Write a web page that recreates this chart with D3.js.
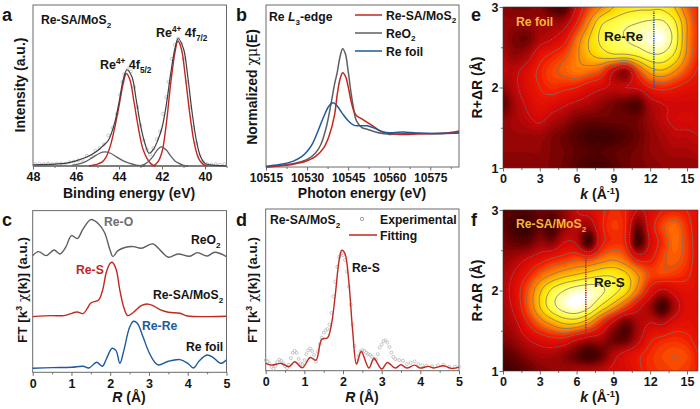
<!DOCTYPE html>
<html><head><meta charset="utf-8">
<script src="https://cdn.jsdelivr.net/npm/d3@7"></script>
<style>
html,body{margin:0;padding:0;background:#fff}
svg{display:block}
text{font-family:"Liberation Sans",Arial,sans-serif;font-weight:bold;fill:#151515}
</style></head><body><svg id="c" width="700" height="409"></svg>
<script>
// ---------- panel a (XPS) ----------
const aTicks=[48,46,44,42,40];
const aEnvelope=[[48,1],[47,1.5],[46.5,2],[46,4],[45.5,7],[45,12],[44.8,15],[44.5,20],[44.2,34],[44,50],[43.8,68],[43.63,75.5],[43.4,70],[43.2,52],[43,32],[42.8,18],[42.6,10],[42.4,13],[42.2,20],[42,30],[41.8,48],[41.6,72],[41.4,92],[41.25,100],[41,92],[40.8,70],[40.6,42],[40.4,20],[40.2,7],[40,2],[39.5,.5],[39,0]];
const aPeak52=[[45.4,0],[45,1.5],[44.8,3],[44.6,7],[44.4,16],[44.2,30],[44,47],[43.8,65],[43.66,72.5],[43.5,68],[43.3,50],[43.1,30],[42.9,14],[42.7,6],[42.5,1.5],[42.3,0]];
const aPeak72=[[42.4,0],[42.2,3],[42,11],[41.8,33],[41.6,64],[41.4,89],[41.26,98],[41.1,92],[40.9,68],[40.7,40],[40.5,18],[40.3,6],[40.1,1.5],[39.9,0]];
const aShoulderHi=[[46.2,.5],[46,1],[45.6,3],[45.2,7],[44.9,10],[44.66,11],[44.4,10],[44.1,7],[43.8,4],[43.5,2],[43.2,.7],[43,.2],[42.8,0]];
const aShoulderLo=[[43,.3],[42.8,1.5],[42.6,4],[42.4,8],[42.2,13],[42.03,15],[41.8,12.5],[41.6,8],[41.4,4],[41.2,2],[41,.5],[40.8,0]];
const aBaseline=[[48,0],[39,0]];
const aExperimental=[[47.9,1.5],[47.7,1.8],[47.5,1.5],[47.3,2],[47.1,1.5],[46.9,1.8],[46.7,2],[46.5,1.8],[46.3,3],[46.1,3.5],[45.9,4.5],[45.7,5],[45.5,8],[45.3,7.5],[45.1,12],[44.9,14],[44.7,17],[44.5,24],[44.3,30],[44.1,41],[43.95,56],[43.85,66],[43.75,72],[43.6,76],[43.45,74],[43.3,62],[43.15,46],[43,32],[42.85,20],[42.7,13],[42.55,9],[42.4,14],[42.25,21],[42.1,27],[41.95,41],[41.8,54],[41.7,66],[41.55,84],[41.4,95],[41.25,100],[41.1,96],[41,84],[40.85,66],[40.7,46],[40.55,30],[40.4,18],[40.25,8],[40.1,3.5],[39.9,1.5],[39.7,1],[39.5,1.5],[39.3,1],[39.1,1.5]];
// ---------- panel b (XANES) ----------
const bTicks=[10515,10530,10545,10560,10575];
const bSA=[[10515,0],[10520,.03],[10525,.08],[10530,.18],[10533,.3],[10536,.55],[10538,.9],[10540,1.5],[10541,2.1],[10542,2.55],[10543,2.75],[10544,2.65],[10545,2.35],[10546,1.95],[10547,1.65],[10548,1.5],[10550,1.4],[10552,1.3],[10554,1.2],[10556,1.08],[10558,1],[10560,.98],[10565,.95],[10570,.96],[10575,.97],[10580,.98],[10585.5,1.05]];
const bReO2=[[10515,0],[10520,.04],[10525,.1],[10530,.22],[10533,.4],[10535,.65],[10537,1.15],[10539,1.95],[10540,2.4],[10541,2.75],[10542,3.2],[10543,3.45],[10544,3.3],[10545,2.8],[10546,2.2],[10547,1.7],[10548,1.35],[10550,1.15],[10552,1.1],[10555,1.02],[10558,.97],[10560,.95],[10565,.97],[10570,.98],[10575,.98],[10580,.99],[10585.5,1]];
const bFoil=[[10515,.02],[10520,.07],[10525,.17],[10528,.3],[10530,.45],[10532,.68],[10534,1.05],[10536,1.45],[10538,1.78],[10539.5,1.87],[10541,1.78],[10543,1.55],[10545,1.35],[10547,1.22],[10549,1.2],[10552,1.2],[10555,1.12],[10558,1.02],[10560,1],[10565,1.02],[10570,.99],[10575,.98],[10580,.98],[10585.5,.99]];
// ---------- panel c (FT-EXAFS, height above the axis in a.u.) ----------
const rTicks=[0,1,2,3,4,5];
const cReO2=[[0,350],[.15,362],[.35,350],[.55,367],[.7,355],[.85,375],[1,410],[1.15,401],[1.3,430],[1.5,458],[1.7,445],[1.85,420],[2,365],[2.07,347],[2.2,365],[2.4,375],[2.6,377],[2.8,372],[3.1,385],[3.3,365],[3.5,345],[3.75,355],[4.05,348],[4.25,359],[4.5,349],[4.7,360],[5,347]];
const cSA=[[0,167],[.5,170],[.8,170],[1.1,180],[1.15,181],[1.3,176],[1.4,190],[1.5,208],[1.7,217],[1.8,245],[1.9,300],[2,327],[2.05,330],[2.15,310],[2.25,245],[2.35,195],[2.45,170],[2.6,180],[2.8,200],[2.95,205],[3.1,200],[3.3,187],[3.5,180],[3.8,177],[4,169],[4.5,167],[5,168]];
const cFoil=[[0,12],[.5,14],[1,15],[1.3,18],[1.45,13],[1.65,30],[1.8,18],[1.9,40],[2.05,72],[2.15,65],[2.25,27],[2.35,65],[2.5,135],[2.6,153],[2.7,147],[2.85,105],[3,60],[3.15,30],[3.25,22],[3.5,33],[3.8,38],[4,27],[4.15,13],[4.3,35],[4.5,52],[4.65,45],[4.85,27],[5,38]];
// ---------- panel d ----------
const dFit=[[0,22],[.15,17],[.4,22],[.6,12],[.75,27],[.95,9],[1.15,40],[1.3,32],[1.45,95],[1.6,100],[1.7,140],[1.8,230],[1.9,335],[1.97,365],[2.05,355],[2.15,270],[2.25,120],[2.35,20],[2.47,58],[2.67,8],[2.8,37],[3,5],[3.15,25],[3.35,8],[3.5,18],[3.65,8],[3.85,17],[4,8],[4.2,13],[4.35,8],[4.6,15],[4.8,7],[5,10]];
const dExperimental=[[0,32],[.05,28],[.1,22],[.15,12],[.2,6],[.25,14],[.3,26],[.35,33],[.4,30],[.45,22],[.5,14],[.55,8],[.6,18],[.65,38],[.7,54],[.75,60],[.8,54],[.85,36],[.9,22],[.95,20],[1,32],[1.05,50],[1.1,62],[1.15,67],[1.2,60],[1.25,48],[1.3,28],[1.35,58],[1.4,80],[1.45,100],[1.5,115],[1.55,122],[1.6,126],[1.65,140],[1.7,175],[1.75,225],[1.8,270],[1.85,315],[1.9,345],[1.95,355],[2,350],[2.05,335],[2.1,300],[2.15,255],[2.2,200],[2.25,140],[2.3,75],[2.35,30],[2.4,45],[2.45,58],[2.5,62],[2.55,60],[2.6,55],[2.65,50],[2.7,48],[2.75,42],[2.8,36],[2.85,35],[2.9,50],[2.95,70],[3,80],[3.05,90],[3.1,92],[3.15,85],[3.2,72],[3.25,55],[3.3,42],[3.35,35],[3.45,32],[3.55,30],[3.65,20],[3.75,24],[3.85,28],[3.95,20],[4.05,16],[4.15,15],[4.3,14],[4.45,16],[4.6,18],[4.75,12],[4.9,12],[5,12]];
// ---------- panels e, f (wavelet maps) ----------
const wkAxis=[0,1,2,3,4,5,6,7,8,9,10,11,12,13,14,15,16];
const wrAxis=[3,2.8,2.6,2.4,2.2,2,1.8,1.6,1.4,1.2,1];
const kTicks=[0,3,6,9,12,15], wTicks=[1,2,3];
const eGrid=[
[.18,.17,.17,.18,.10,.08,.32,.50,.62,.72,.78,.80,.80,.80,.72,.55,.45],
[.22,.20,.20,.22,.22,.25,.42,.62,.80,.86,.90,.92,.94,.94,.84,.62,.45],
[.22,.16,.15,.25,.30,.38,.56,.72,.84,.88,.92,.95,.99,1.0,.88,.62,.46],
[.25,.20,.25,.38,.44,.50,.60,.70,.76,.80,.80,.84,.90,.90,.80,.60,.44],
[.28,.28,.36,.44,.50,.54,.58,.56,.50,.30,.20,.48,.66,.70,.62,.50,.40],
[.20,.28,.36,.42,.46,.44,.42,.36,.32,.28,.30,.32,.42,.45,.42,.38,.36],
[.12,.24,.32,.38,.36,.32,.28,.25,.20,.16,.12,.10,.25,.30,.32,.32,.32],
[.20,.24,.28,.32,.26,.22,.16,.14,.14,.14,.14,.15,.22,.28,.32,.33,.32],
[.22,.22,.22,.22,.18,.14,.10,.06,.05,.07,.10,.14,.20,.24,.28,.28,.30],
[.20,.20,.20,.20,.17,.15,.12,.10,.10,.12,.14,.16,.20,.22,.24,.24,.26],
[.18,.18,.18,.18,.17,.14,.10,.06,.06,.10,.14,.16,.18,.20,.20,.20,.20]];
const fGrid=[
[.12,.10,.10,.14,.14,.20,.30,.34,.40,.46,.42,.30,.34,.42,.44,.42,.36],
[.12,.06,.04,.12,.06,.20,.26,.22,.40,.48,.42,.14,.36,.50,.56,.46,.36],
[.16,.12,.12,.20,.18,.30,.28,.06,.38,.46,.42,.06,.32,.46,.56,.48,.36],
[.20,.24,.30,.36,.42,.46,.50,.48,.56,.60,.54,.38,.40,.50,.54,.48,.36],
[.24,.32,.42,.54,.62,.68,.72,.76,.80,.80,.74,.62,.50,.50,.48,.44,.36],
[.26,.36,.52,.70,.84,.92,.97,.98,.94,.86,.76,.58,.38,.28,.34,.38,.36],
[.24,.34,.52,.72,.88,.97,1.0,.94,.80,.66,.50,.34,.22,.06,.24,.36,.34],
[.22,.28,.42,.56,.66,.74,.74,.64,.46,.28,.14,.24,.30,.28,.36,.38,.36],
[.18,.22,.30,.36,.40,.40,.32,.26,.24,.14,.12,.26,.40,.44,.46,.44,.38],
[.10,.14,.20,.24,.24,.20,.12,.05,.12,.26,.34,.40,.46,.50,.52,.50,.42],
[.05,.08,.12,.18,.20,.22,.24,.26,.28,.32,.34,.40,.46,.48,.50,.48,.44]];
const lineLevels=[.3,.42,.52,.62,.72,.82,.92];

const RED="#c0281f",GREY="#5f5f63",BLUE="#1d5a9e",FRAME="#6a6a6a";
const svg=d3.select("#c");
const line=(x,y)=>d3.line().x(d=>x(d[0])).y(d=>y(d[1])).curve(d3.curveCatmullRom.alpha(.5));

function rich(g,x,y,size,parts,opt={}){
  const t=g.append("text").attr("transform",`translate(${x},${y})${opt.rot?` rotate(${opt.rot})`:""}`)
    .attr("text-anchor",opt.anchor||"start").style("font-size",size+"px");
  if(opt.fill)t.style("fill",opt.fill);
  let last=0;
  parts.forEach(p=>{
    const [s,k]=Array.isArray(p)?p:[p,""];
    const off=k==="sub"?size*.3:k==="sup"?-size*.38:0;
    const sp=t.append("tspan").text(s).attr("dy",off-last);
    if(k==="sub"||k==="sup")sp.style("font-size",(size*.66)+"px");
    if(k==="i")sp.style("font-style","italic");
    if(k==="g")sp.style("font-weight","normal").style("font-family","'DejaVu Serif',serif");
    last=off;
  });
  return t;
}
function ticksOn(g,axisGen,size){
  const a=g.call(axisGen.tickSize(size));
  a.select(".domain").remove();
  a.selectAll("line").attr("stroke",FRAME);
  return a;
}
function frame(x,y,top,tickVals,minor,size=12.5){
  const [x0,x1]=x.range(),y1=y.range()[0];
  const g=svg.append("g");
  g.append("rect").attr("x",x0).attr("y",top).attr("width",x1-x0).attr("height",y1-top).attr("fill","none").attr("stroke",FRAME).attr("stroke-width",1);
  ticksOn(g.append("g").attr("transform",`translate(0,${y1})`),d3.axisBottom(x).tickValues(minor).tickFormat(""),2);
  const ax=ticksOn(g.append("g").attr("transform",`translate(0,${y1})`),d3.axisBottom(x).tickValues(tickVals).tickPadding(3).tickFormat(d3.format("d")),3.5);
  ax.selectAll("text").style("font-size",size+"px").attr("fill",null);
  return g;
}
function plot(data,x,y,color,w=1.4){
  svg.append("path").datum(data).attr("d",line(x,y)).attr("fill","none").attr("stroke",color).attr("stroke-width",w).attr("stroke-linejoin","round");
}
function dots(data,x,y,r=1.5,c="#b9b9b9"){
  svg.append("g").selectAll("circle").data(data).join("circle").attr("cx",d=>x(d[0])).attr("cy",d=>y(d[1])).attr("r",r).attr("fill","none").attr("stroke",c).attr("stroke-width",.8);
}
const LB=12.2, TT=14;
// ---- a ----
{
  const x=d3.scaleLinear([48,39],[33,226.5]),y=d3.scaleLinear([0,100],[166,38.5]);
  frame(x,y,5,aTicks,[47,45,43,41,39]);
  dots(aExperimental,x,y);
  plot(aBaseline,x,y,"#7d7d7d",2);
  plot(aPeak52,x,y,RED,1.4);plot(aPeak72,x,y,RED,1.4);
  plot(aShoulderHi,x,y,GREY,1.3);plot(aShoulderLo,x,y,GREY,1.3);
  plot(aEnvelope,x,y,"#3d3f46",1.2);
  rich(svg,41,24,LB,["Re-SA/MoS",["2","sub"]]);
  rich(svg,100,69,12.5,["Re",["4+","sup"],[" 4f",""],["5/2","sub"]]);
  rich(svg,156,37,12.5,["Re",["4+","sup"],[" 4f",""],["7/2","sub"]]);
  rich(svg,129,198,TT,["Binding energy (eV)"],{anchor:"middle"});
  rich(svg,25,85,TT,["Intensity (a.u.)"],{anchor:"middle",rot:-90});
  rich(svg,2,21,18,["a"]);
}
// ---- b ----
{
  const x=d3.scaleLinear([10515,10585.5],[266,459]),y=d3.scaleLinear([0,1],[167,132.7]);
  frame(x,y,5,bTicks,[10522.5,10537.5,10552.5,10567.5,10582.5],12);
  plot(bReO2,x,y,GREY,1.5);plot(bSA,x,y,RED,1.5);plot(bFoil,x,y,BLUE,1.5);
  const legend=[["Re-SA/MoS",RED,15,true],["ReO",GREY,33,true],["Re foil",BLUE,51,false]];
  legend.forEach(([n,c,yy,sub])=>{
    svg.append("line").attr("x1",355).attr("x2",382).attr("y1",yy).attr("y2",yy).attr("stroke",c).attr("stroke-width",1.5);
    rich(svg,386,yy+4.5,LB,sub?[n,["2","sub"]]:[n]);
  });
  rich(svg,269,21,LB,["Re ",["L","i"],["3","sub"],"-edge"]);
  rich(svg,362,198,TT,["Photon energy (eV)"],{anchor:"middle"});
  rich(svg,257,87,TT,["Normalized ",["χμ","g"],"(E)"],{anchor:"middle",rot:-90});
  rich(svg,236,21,18,["b"]);
}
// ---- c ----
{
  const x=d3.scaleLinear([0,5],[32.7,226.5]),y=d3.scaleLinear([0,485],[372.3,210.6]);
  frame(x,y,210.6,rTicks,[.5,1.5,2.5,3.5,4.5]);
  plot(cReO2,x,y,GREY);plot(cSA,x,y,RED);plot(cFoil,x,y,BLUE);
  rich(svg,104,226,LB,["Re-O"],{fill:"#6d6d6d"});
  rich(svg,76,274,LB,["Re-S"],{fill:RED});
  rich(svg,142,330,LB,["Re-Re"],{fill:BLUE});
  rich(svg,191,244,LB,["ReO",["2","sub"]]);
  rich(svg,153,299,LB,["Re-SA/MoS",["2","sub"]]);
  rich(svg,186,351,LB,["Re foil"]);
  rich(svg,129,402,TT,[["R","i"]," (Å)"],{anchor:"middle"});
  rich(svg,27,290,13.5,["FT [k",["3","sup"]," ",["χ","g"],"(k)] (a.u.)"],{anchor:"middle",rot:-90});
  rich(svg,2,226,18,["c"]);
}
// ---- d ----
{
  const x=d3.scaleLinear([0,5],[265.7,459]),y=d3.scaleLinear([0,490],[370.7,209]);
  frame(x,y,209,rTicks,[.5,1.5,2.5,3.5,4.5]);
  dots(dExperimental,x,y);
  plot(dFit,x,y,RED);
  rich(svg,270,224,LB,["Re-SA/MoS",["2","sub"]]);
  svg.append("circle").attr("cx",362).attr("cy",219).attr("r",1.7).attr("fill","none").attr("stroke","#8a8a8a").attr("stroke-width",.8);
  rich(svg,380,224,LB,["Experimental"]);
  svg.append("line").attr("x1",349).attr("x2",377).attr("y1",235).attr("y2",235).attr("stroke",RED).attr("stroke-width",1.5);
  rich(svg,380,240,LB,["Fitting"]);
  rich(svg,352,272,LB,["Re-S"]);
  rich(svg,362,402,TT,[["R","i"]," (Å)"],{anchor:"middle"});
  rich(svg,257,290,13.5,["FT [k",["3","sup"]," ",["χ","g"],"(k)] (a.u.)"],{anchor:"middle",rot:-90});
  rich(svg,236,226,18,["d"]);
}
// ---- heat maps ----
const heatColor=d3.scaleLinear().domain([0,.1,.2,.3,.42,.55,.65,.75,.87,.95,1]).range(["#2a0000","#5a0000","#980505","#d00808","#f01800","#ff6a00","#ffa500","#ffe000","#ffff50","#ffffb0","#ffffff"]).clamp(true);
function upsample(grid,n){
  const R=grid.length,C=grid[0].length,W=(C-1)*n+1,H=(R-1)*n+1,out=new Float64Array(W*H);
  const cr=(a,b,c,d,t)=>.5*(2*b+(c-a)*t+(2*a-5*b+4*c-d)*t*t+(3*b-a-3*c+d)*t*t*t);
  const g=(r,c)=>grid[Math.max(0,Math.min(R-1,r))][Math.max(0,Math.min(C-1,c))];
  for(let j=0;j<H;j++)for(let i=0;i<W;i++){
    const r=Math.floor(j/n),c=Math.floor(i/n),tr=j/n-r,tc=i/n-c,v=[];
    for(let k=-1;k<3;k++)v.push(cr(g(r+k,c-1),g(r+k,c),g(r+k,c+1),g(r+k,c+2),tc));
    out[j*W+i]=cr(v[0],v[1],v[2],v[3],tr);
  }
  return {values:out,W,H};
}
function heat(grid,id,top,bottom,markK,markR,markC){
  const x=d3.scaleLinear([0,15.9],[503,698]),y=d3.scaleLinear([1,3],[bottom,top]);
  const n=8,u=upsample(grid,n);
  const px=d3.scaleLinear([0,u.W-1],[x(wkAxis[0]),x(wkAxis[wkAxis.length-1])]);
  const py=d3.scaleLinear([0,u.H-1],[y(wrAxis[0]),y(wrAxis[wrAxis.length-1])]);
  const proj=d3.geoTransform({point(a,b){this.stream.point(px(a-.5),py(b-.5));}});
  const path=d3.geoPath(proj);
  svg.append("clipPath").attr("id",id).append("rect").attr("x",503).attr("y",top).attr("width",195).attr("height",bottom-top);
  const g=svg.append("g").attr("clip-path",`url(#${id})`);
  const levels=d3.range(-.1,1.1,.025);
  g.selectAll("path.f").data(d3.contours().size([u.W,u.H]).thresholds(levels)(u.values)).join("path")
    .attr("d",path).attr("fill",d=>heatColor(d.value)).attr("stroke",d=>heatColor(d.value)).attr("stroke-width",.4);
  g.selectAll("path.l").data(d3.contours().size([u.W,u.H]).thresholds(lineLevels)(u.values)).join("path")
    .attr("d",path).attr("fill","none").attr("stroke","#7a7468").attr("stroke-width",.8)
    .attr("stroke-dasharray",d=>d.value===lineLevels[0]?"1.5 1":null);
  g.append("path").datum([[markK,markR[0]],[markK,markR[1]]]).attr("d",d3.line().x(d=>x(d[0])).y(d=>y(d[1])))
    .attr("stroke",markC).attr("stroke-width",1.6).attr("stroke-dasharray","1.3 1");
  const f=svg.append("g");
  f.append("rect").attr("x",503).attr("y",top).attr("width",195).attr("height",bottom-top).attr("fill","none").attr("stroke","#3a3a3a").attr("stroke-width",.6);
  ticksOn(f.append("g").attr("transform",`translate(0,${bottom})`),d3.axisBottom(x).tickValues([1.5,4.5,7.5,10.5,13.5]).tickFormat(""),2);
  ticksOn(f.append("g").attr("transform",`translate(503,0)`),d3.axisLeft(y).tickValues([1.5,2.5]).tickFormat(""),2);
  const ax=ticksOn(f.append("g").attr("transform",`translate(0,${bottom})`),d3.axisBottom(x).tickValues(kTicks).tickPadding(3).tickFormat(d3.format("d")),3.5);
  ax.selectAll("text").style("font-size","12.5px").attr("fill",null);
  const ay=ticksOn(f.append("g").attr("transform",`translate(503,0)`),d3.axisLeft(y).tickValues(wTicks).tickPadding(1).tickFormat(d3.format("d")),3.5);
  ay.selectAll("text").style("font-size","12.5px").attr("fill",null);
  rich(svg,600,bottom+31,TT,[["k","i"]," (Å",["-1","sup"],")"],{anchor:"middle"});
  rich(svg,482,(top+bottom)/2,TT,["R+ΔR (Å)"],{anchor:"middle",rot:-90});
}
heat(eGrid,"clipE",7,168,12.3,[2,2.95],"#1f55c8");
heat(fGrid,"clipF",210,371,6.75,[1.45,2.4],"#b81c2c");
rich(svg,516,26,LB,["Re foil"],{fill:"#f5b73a"});
rich(svg,604,41,13.5,["Re-Re"]);
rich(svg,516,228,LB,["Re-SA/MoS",["2","sub"]],{fill:"#f5b73a"});
rich(svg,594,287,13.5,["Re-S"]);
rich(svg,471,21,18,["e"]);
rich(svg,471,226,18,["f"]);
</script></body></html>
